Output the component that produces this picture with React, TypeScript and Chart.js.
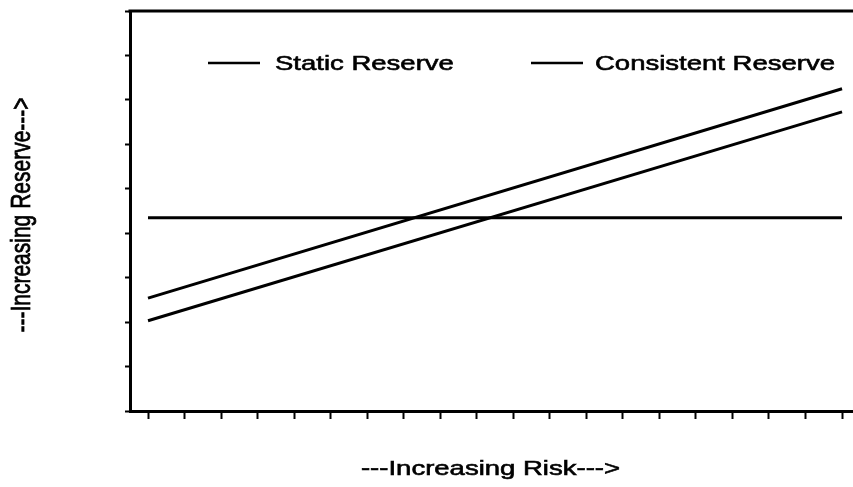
import React, { useEffect, useRef } from "react";
import { Chart, registerables } from "chart.js";

Chart.register(...registerables);

// ---- data ----
const riskPoints = [0, 19];
const staticReserve = [4.35, 4.35];
const consistentReserveUpper = [2.54, 7.25];
const consistentReserveLower = [2.03, 6.73];
const xTickValues = [0, 1, 2, 3, 4, 5, 6, 7, 8, 9, 10, 11, 12, 13, 14, 15, 16, 17, 18, 19];
const yTickValues = [0, 1, 2, 3, 4, 5, 6, 7, 8, 9];
const legendLabels = ["Static Reserve", "Consistent Reserve"];
const xTitle = "---Increasing Risk--->";
const yTitle = "---Increasing Reserve--->";

const FONT = '"Liberation Sans", Arial, Helvetica, sans-serif';
const STRETCH = 1.31;

const toPoints = (ys: number[]) => riskPoints.map((x, i) => ({ x, y: ys[i] }));

function heavyText(ctx: CanvasRenderingContext2D, text: string) {
  ctx.fillText(text, 0, 0);
  ctx.lineWidth = 0.6;
  ctx.strokeText(text, 0, 0);
}

const textPlugin = {
  id: "customText",
  afterDraw(chart: any) {
    const ctx = chart.ctx as CanvasRenderingContext2D;
    const area = chart.chartArea;
    ctx.save();
    // top border
    ctx.strokeStyle = "#000";
    ctx.lineWidth = 3;
    ctx.beginPath();
    ctx.moveTo(area.left - 1.5, area.top);
    ctx.lineTo(area.right, area.top);
    ctx.stroke();

    ctx.fillStyle = "#000";
    ctx.textBaseline = "middle";

    // legend
    const legendY = 64;
    const samples = [
      { x0: 208, x1: 260, tx: 275 },
      { x0: 531, x1: 583, tx: 595 },
    ];
    samples.forEach((s, i) => {
      ctx.lineWidth = 2.5;
      ctx.beginPath();
      ctx.moveTo(s.x0, legendY - 1);
      ctx.lineTo(s.x1, legendY - 1);
      ctx.stroke();
      ctx.save();
      ctx.translate(s.tx, legendY);
      ctx.scale(STRETCH, 1);
      ctx.font = `21px ${FONT}`;
      ctx.textAlign = "left";
      heavyText(ctx, legendLabels[i]);
      ctx.restore();
    });

    // x title
    ctx.save();
    ctx.translate((area.left + area.right) / 2 - 1, 469);
    ctx.scale(STRETCH, 1);
    ctx.font = `21px ${FONT}`;
    ctx.textAlign = "center";
    heavyText(ctx, xTitle);
    ctx.restore();

    // y title
    ctx.save();
    ctx.translate(22, 215);
    ctx.scale(1.34, 1);
    ctx.rotate(-Math.PI / 2);
    ctx.font = `21px ${FONT}`;
    ctx.textAlign = "center";
    heavyText(ctx, yTitle);
    ctx.restore();

    ctx.restore();
  },
};

export default function App() {
  const ref = useRef<HTMLCanvasElement>(null);

  useEffect(() => {
    document.body.style.margin = "0";
    const lineStyle = {
      borderColor: "#000",
      borderWidth: 3,
      pointRadius: 0,
      tension: 0,
      fill: false,
    };
    const chart = new Chart(ref.current!, {
      type: "line",
      data: {
        datasets: [
          { label: legendLabels[0], data: toPoints(staticReserve), ...lineStyle },
          { label: legendLabels[1], data: toPoints(consistentReserveUpper), ...lineStyle },
          { label: legendLabels[1] + " (lower)", data: toPoints(consistentReserveLower), ...lineStyle },
        ],
      },
      options: {
        responsive: false,
        animation: false,
        devicePixelRatio: 1,
        layout: { padding: { top: 11, left: 0, right: 0, bottom: 0 } },
        plugins: { legend: { display: false }, tooltip: { enabled: false } },
        scales: {
          x: {
            type: "linear",
            min: -0.493,
            max: 19.3,
            afterBuildTicks: (s: any) => {
              s.ticks = xTickValues.map((v) => ({ value: v }));
            },
            afterFit: (s: any) => {
              s.height = 76;
            },
            ticks: { display: false },
            grid: {
              drawOnChartArea: false,
              drawTicks: true,
              tickLength: 8,
              tickColor: "#000",
              tickWidth: 2,
            },
            border: { display: true, color: "#000", width: 3 },
          },
          y: {
            type: "linear",
            min: 0,
            max: 9,
            afterBuildTicks: (s: any) => {
              s.ticks = yTickValues.map((v) => ({ value: v }));
            },
            afterFit: (s: any) => {
              s.width = 130;
            },
            ticks: { display: false },
            grid: {
              drawOnChartArea: false,
              drawTicks: true,
              tickLength: 5,
              tickColor: "#000",
              tickWidth: 2,
            },
            border: { display: true, color: "#000", width: 3 },
          },
        },
      },
      plugins: [textPlugin],
    } as any);
    return () => chart.destroy();
  }, []);

  return (
    <div style={{ position: "absolute", left: 0, top: 0, width: 853, height: 487, background: "#fff" }}>
      <canvas ref={ref} width={853} height={487} />
    </div>
  );
}
